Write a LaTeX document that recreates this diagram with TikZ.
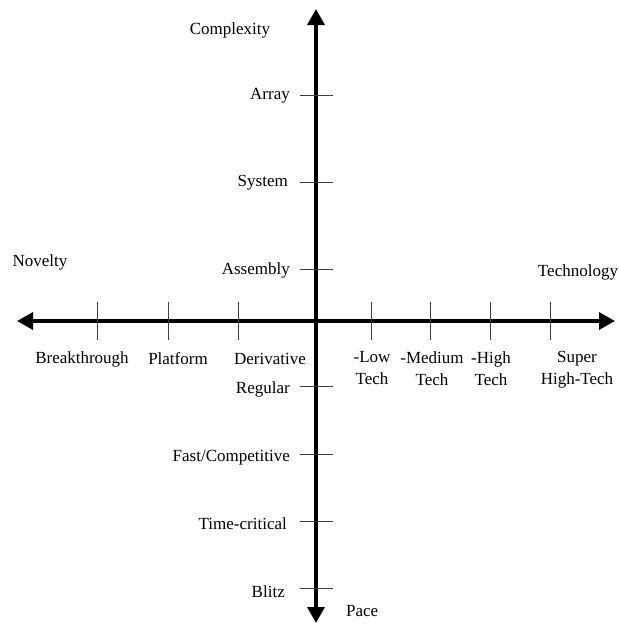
\documentclass[tikz,border=0pt]{standalone}
\usepackage{fontspec}
\setmainfont{Liberation Serif}
\usetikzlibrary{arrows.meta}
\begin{document}
\begin{tikzpicture}[x=1pt,y=-1pt,
  axis/.style={line width=3.5pt,{Triangle[length=16pt,width=17pt]}-{Triangle[length=16pt,width=17pt]}},
  tick/.style={line width=0.8pt,black!75},
  lbl/.style={font=\fontsize{17}{22}\selectfont,inner sep=0pt},
  lblr/.style={lbl,anchor=east},
  lblc/.style={lbl,align=center,anchor=north}]
\useasboundingbox (0,0) rectangle (619,625);
\coordinate (W) at (17,321);
\coordinate (E) at (615,321);
\coordinate (N) at (316,9);
\coordinate (S) at (316,623);
\draw[axis] (W) -- (E);
\draw[axis] (S) -- (N);
% horizontal ticks
\foreach \n/\x in {t1/97,t2/168,t3/238,t4/371,t5/430,t6/490,t7/550}{
  \coordinate (\n a) at (\x,302); \coordinate (\n b) at (\x,340);
  \draw[tick] (\n a) -- (\n b);}
% vertical ticks
\foreach \n/\y in {v1/95,v2/182,v3/269,v4/386,v5/454,v6/521,v7/588}{
  \coordinate (\n a) at (300,\y); \coordinate (\n b) at (333,\y);
  \draw[tick] (\n a) -- (\n b);}
\node[lbl] (cx) at (230,30) {Complexity};
\node[lbl] (nov) at (40,262) {Novelty};
\node[lbl] (tech) at (578,272) {Technology};
\node[lbl,anchor=west] (pace) at (346,611) {Pace};
\node[lblr] (arr) at (290,96) {Array};
\node[lblr] (sys) at (288,183) {System};
\node[lblr] (asm) at (290,270) {Assembly};
\node[lblr] (reg) at (290,389) {Regular};
\node[lblr] (fast) at (290,458) {Fast/Competitive};
\node[lblr] (tc) at (287,524) {Time-critical};
\node[lblr] (bl) at (285,592) {Blitz};
\node[lbl] (bt) at (82,359) {Breakthrough};
\node[lbl] (pf) at (178,359) {Platform};
\node[lbl] (dv) at (270,359) {Derivative};
\node[lblc] (lt) at (372,351) {-Low\\Tech};
\node[lblc] (mt) at (432,351) {-Medium\\Tech};
\node[lblc] (ht) at (491,351) {-High\\Tech};
\node[lblc] (st) at (577,351) {Super\\High-Tech};
\end{tikzpicture}
\end{document}
